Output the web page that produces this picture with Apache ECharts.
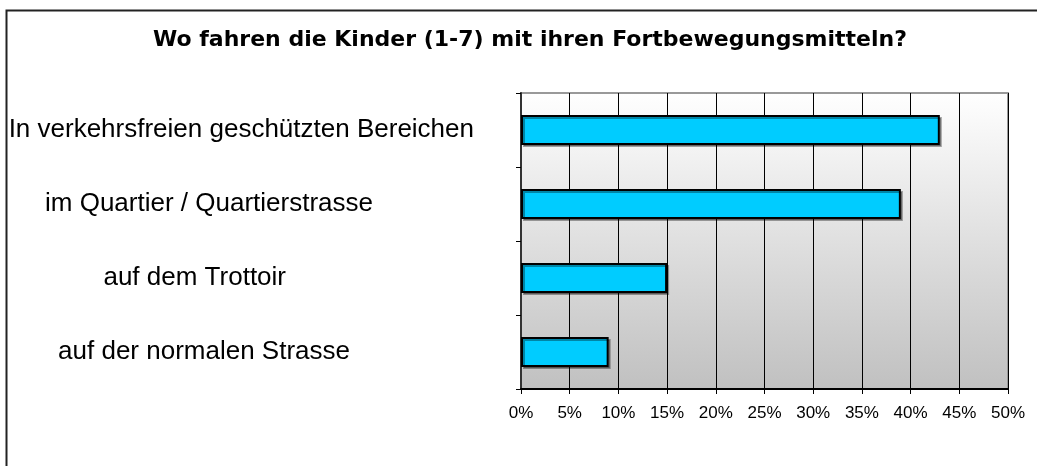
<!DOCTYPE html>
<html>
<head>
<meta charset="utf-8">
<script src="https://cdn.jsdelivr.net/npm/echarts@6/dist/echarts.min.js"></script>
<style>
  html, body { margin: 0; padding: 0; background: #fff; }
  #chart { width: 1037px; height: 466px; }
</style>
</head>
<body>
<div id="chart"></div>
<script>
// Kategorien von unten nach oben (Kategorieachse beginnt unten)
var orte = [
    'auf der normalen Strasse',
    'auf dem Trottoir',
    'im Quartier / Quartierstrasse',
    'In verkehrsfreien geschützten Bereichen'
];
var anteile = [9, 15, 39, 43];
var xTicks = [0, 5, 10, 15, 20, 25, 30, 35, 40, 45, 50];

// Abstand rechts der Beschriftungen (wie im Original leicht versetzt)
var labelPad = [163, 227, 140, 39];
var rich = {};
labelPad.forEach(function (p, i) {
    rich['l' + i] = { fontSize: 26, color: '#000', padding: [0, p, 0, 0] };
});

var chart = echarts.init(document.getElementById('chart'));
chart.setOption({
    animation: false,
    textStyle: { fontFamily: 'Liberation Sans, Arial, sans-serif' },
    title: {
        text: 'Wo fahren die Kinder (1-7) mit ihren Fortbewegungsmitteln?',
        left: 525,
        textAlign: 'center',
        top: 24,
        textStyle: {
            fontFamily: 'DejaVu Sans',
            fontSize: 22,
            fontWeight: 'bold',
            color: '#000'
        }
    },
    // Rahmen um das ganze Diagramm
    graphic: [{
        type: 'rect',
        shape: { x: 6.5, y: 10.5, width: 1100, height: 600 },
        style: { fill: null, stroke: '#222', lineWidth: 2 },
        silent: true
    }],
    grid: {
        left: 521,
        right: 29,
        top: 93,
        bottom: 77,
        show: true,
        borderColor: '#999',
        borderWidth: 2,
        backgroundColor: new echarts.graphic.LinearGradient(0, 0, 0, 1, [
            { offset: 0, color: '#ffffff' },
            { offset: 1, color: '#c0c0c0' }
        ])
    },
    xAxis: {
        type: 'value',
        min: xTicks[0],
        max: xTicks[xTicks.length - 1],
        interval: 5,
        axisLine: { show: true, lineStyle: { color: '#000', width: 2 } },
        axisTick: { show: true, length: 5, lineStyle: { color: '#000' } },
        splitLine: { show: true, lineStyle: { color: '#000', width: 1 } },
        axisLabel: {
            formatter: '{value}%',
            fontSize: 17,
            color: '#000',
            margin: 16
        }
    },
    yAxis: {
        type: 'category',
        data: orte,
        axisLine: { show: true, lineStyle: { color: '#333', width: 2 } },
        axisTick: { show: true, length: 5, lineStyle: { color: '#000' } },
        axisLabel: {
            align: 'right',
            margin: 8,
            formatter: function (value, index) {
                return '{l' + index + '|' + value + '}';
            },
            rich: rich
        }
    },
    series: [{
        type: 'bar',
        data: anteile,
        barWidth: 30,
        itemStyle: {
            color: '#00CCFF',
            borderColor: '#000',
            borderWidth: 2,
            shadowColor: 'rgba(0,0,0,0.35)',
            shadowOffsetX: 2,
            shadowOffsetY: 2
        }
    }]
});
</script>
</body>
</html>
